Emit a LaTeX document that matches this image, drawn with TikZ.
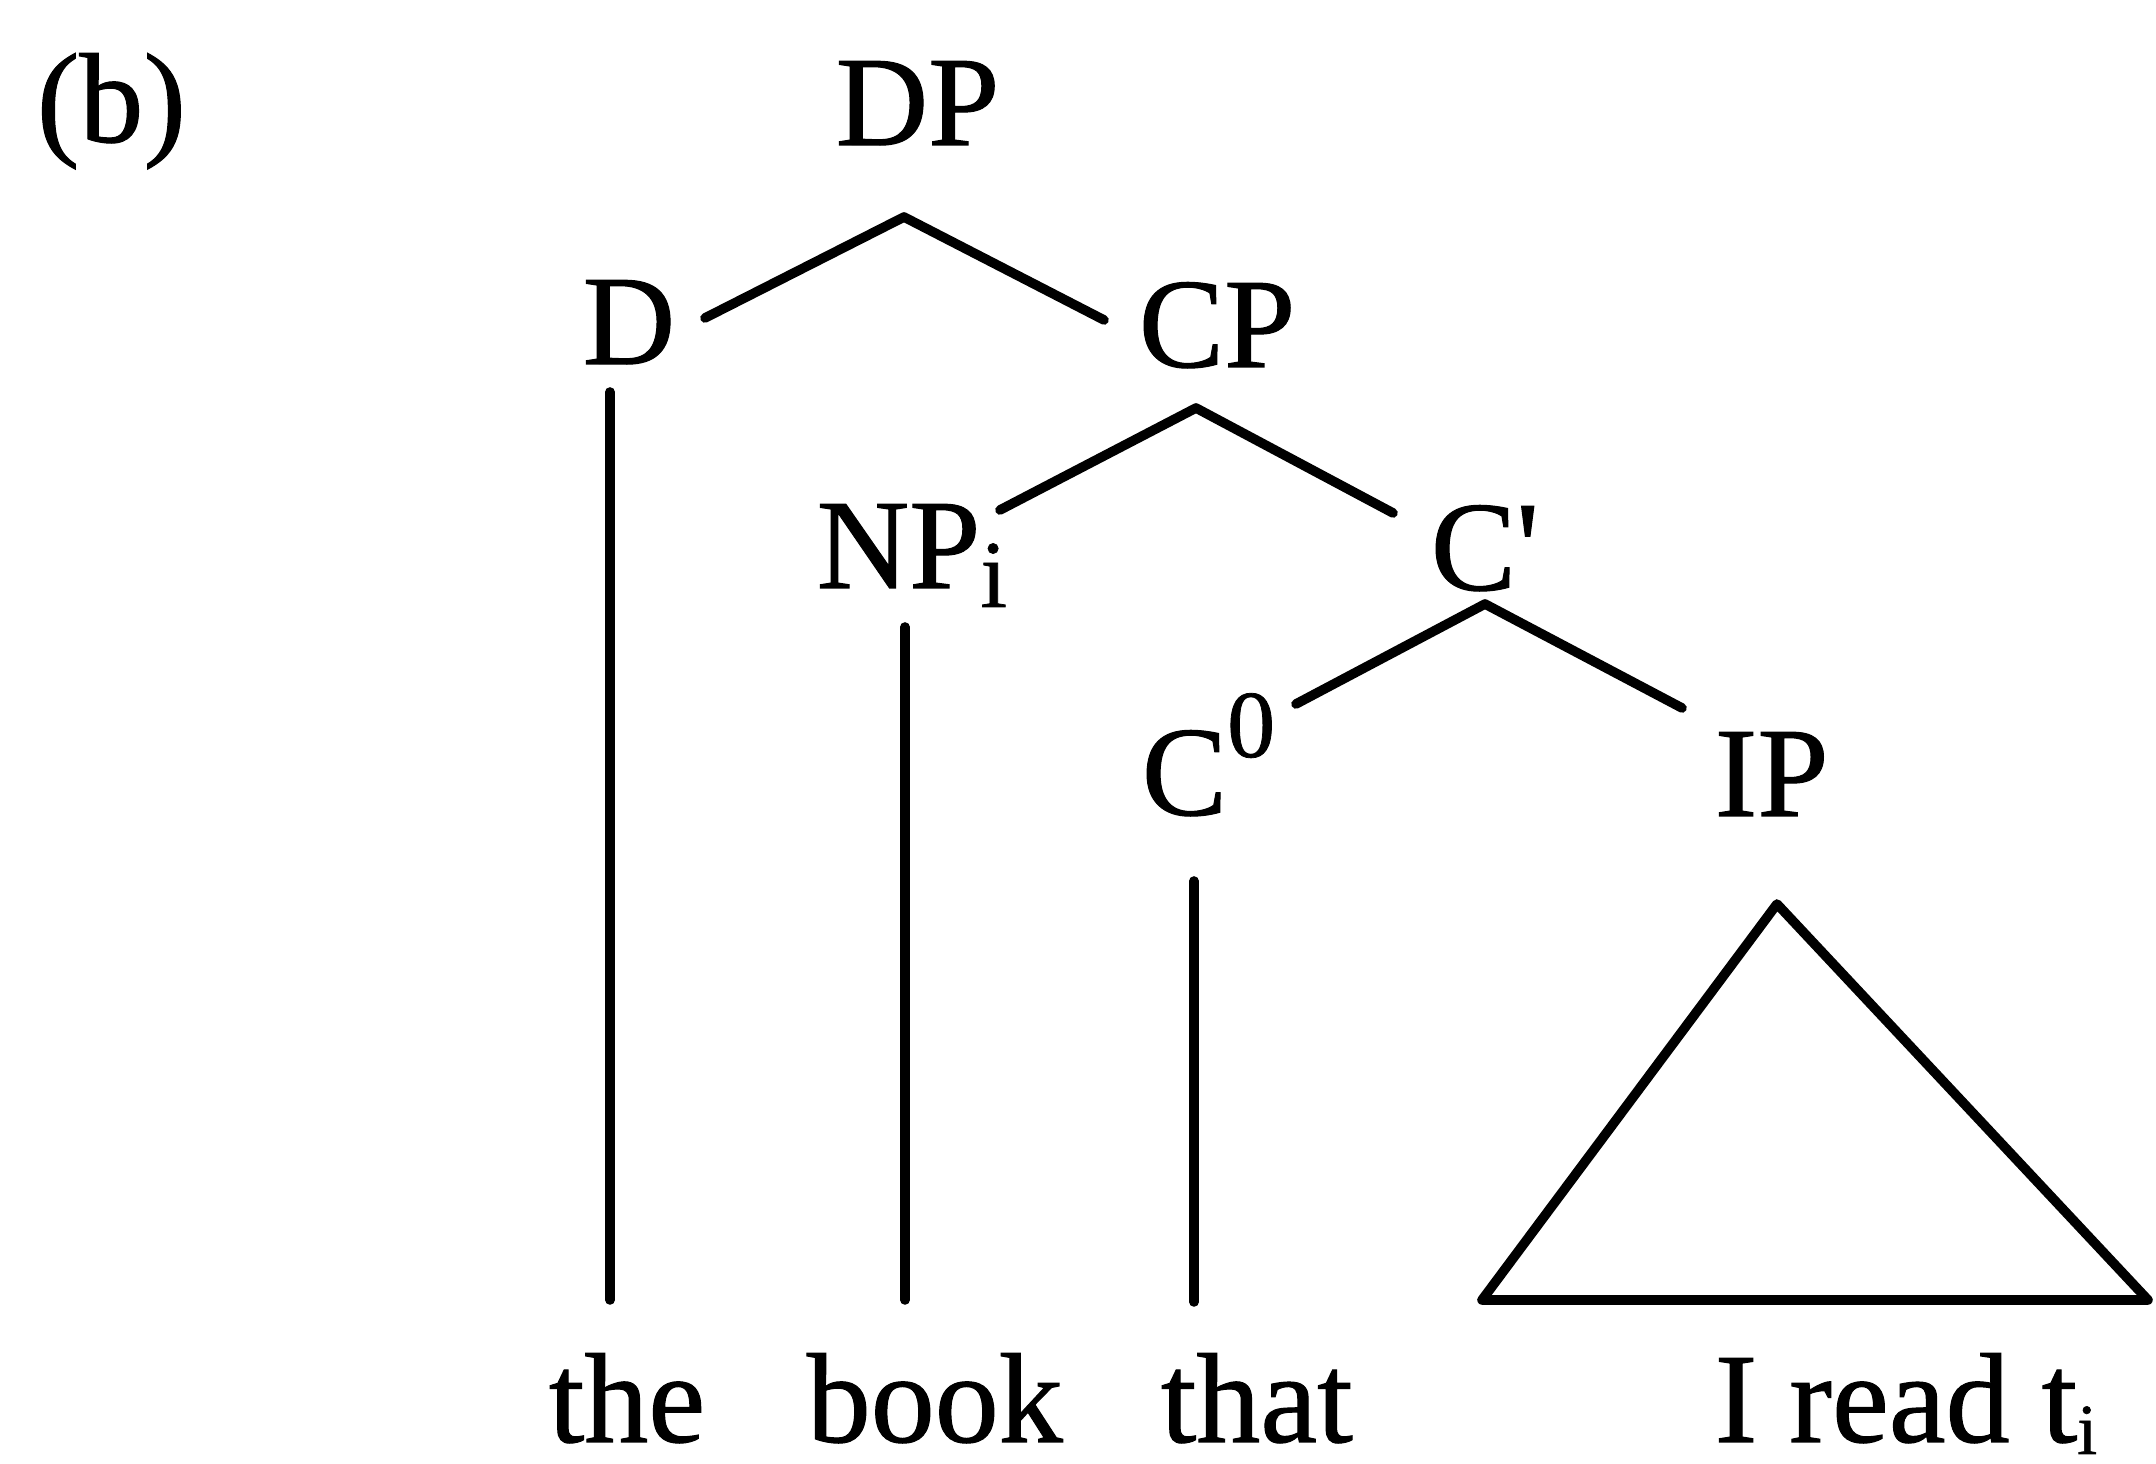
\documentclass[tikz,border=0pt]{standalone}
\usepackage{fontspec}
\setmainfont{Liberation Serif}
\newfontfamily\scanfont{Liberation Serif}[FakeBold=0.8]
\newcommand{\subi}{\raisebox{-4.75pt}{\fontsize{24}{24}\selectfont i}}
\newcommand{\subti}{\raisebox{-3pt}{\fontsize{18}{18}\selectfont i}}
\newcommand{\supzero}{\raisebox{14.5pt}{\fontsize{24}{24}\selectfont 0}}
\begin{document}
\begin{tikzpicture}[x=0.25pt,y=-0.25pt,
  lbl/.style={inner sep=0pt, anchor=base west, font=\scanfont\fontsize{32}{38}\selectfont},
  edge/.style={line width=2.4pt, line cap=round, line join=round}]
\useasboundingbox (0,0) rectangle (2156,1464);
% labels
\node[lbl] (b) at (36,142) {(b)};
\node[lbl] (DP) at (835,145) {DP};
\node[lbl] (D) at (582,364) {D};
\node[lbl] (CP) at (1138,367) {CP};
\node[lbl] (NP) at (816,588) {NP\subi};
\node[lbl] (Cb) at (1430,590) {C\textquotesingle};
\node[lbl] (C0) at (1141,815) {C\supzero};
\node[lbl] (IP) at (1714,816) {IP};
\node[lbl] (the) at (548,1442) {the};
\node[lbl] (book) at (806,1442) {book};
\node[lbl] (that) at (1160,1442) {that};
\node[lbl] (ird) at (1714,1442) {I read t\subti};
% branch points
\coordinate (DPa) at (904,217);
\coordinate (DPl) at (705,318);
\coordinate (DPr) at (1104,320);
\coordinate (CPa) at (1196,408);
\coordinate (CPl) at (1000,510);
\coordinate (CPr) at (1393,513);
\coordinate (Cba) at (1485,604);
\coordinate (Cbl) at (1296,704);
\coordinate (Cbr) at (1682,708);
\coordinate (Dt) at (610,392);
\coordinate (Db) at (610,1300);
\coordinate (NPt) at (905,627);
\coordinate (NPb) at (905,1300);
\coordinate (C0t) at (1194,881);
\coordinate (C0b) at (1194,1302);
\coordinate (IPa) at (1777,904);
\coordinate (IPl) at (1482,1300);
\coordinate (IPr) at (2148,1300);
% edges
\draw[edge] (DPl) -- (DPa) -- (DPr);
\draw[edge] (CPl) -- (CPa) -- (CPr);
\draw[edge] (Cbl) -- (Cba) -- (Cbr);
\draw[edge] (Dt) -- (Db);
\draw[edge] (NPt) -- (NPb);
\draw[edge] (C0t) -- (C0b);
\draw[edge] (IPa) -- (IPl) -- (IPr) -- cycle;
\end{tikzpicture}
\end{document}
